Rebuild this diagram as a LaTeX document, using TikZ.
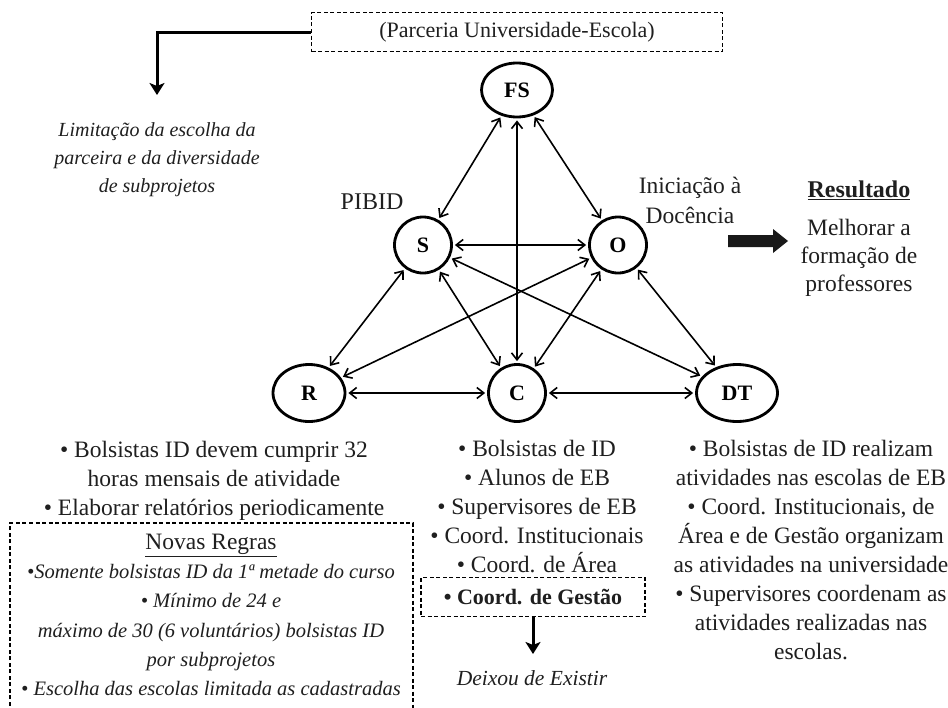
\documentclass[tikz,border=0pt]{standalone}
\usepackage{fontspec}
\setmainfont{Liberation Serif}
\usetikzlibrary{arrows.meta,shapes.geometric}
\begin{document}
\begin{tikzpicture}[x=1pt,y=-1pt,
  txt/.style={font=\fontsize{23.5}{29}\selectfont, align=center, inner sep=0pt, text=black!88},
  itxt/.style={txt, font=\fontsize{20.5}{28}\selectfont\itshape},
  vtx/.style={ellipse, draw, line width=2.8pt, inner sep=0pt, font=\fontsize{22}{25}\selectfont\bfseries},
  link/.style={{Straight Barb[length=7pt,width=11pt]}-{Straight Barb[length=7pt,width=11pt]}, line width=1.6pt, shorten >=2pt, shorten <=2pt},
  dbox/.style={draw, dash pattern=on 4pt off 2.5pt, line width=1.1pt},
  bigarrow/.style={line width=3pt, -{Stealth[length=12pt,width=15pt,inset=3pt]}}
]
\path[use as bounding box, fill=white] (0,0) rectangle (948,707);

% top box and left elbow arrow
\node[dbox, txt, font=\fontsize{22}{29}\selectfont, minimum width=411pt, minimum height=39pt] (top) at (517,32) {(Parceria Universidade-Escola)};
\coordinate (limtip) at (157,95);
\draw[bigarrow] (top.west) -| (limtip);
\node[itxt, font=\fontsize{20}{28}\selectfont\itshape] (lim) at (157,160) {Limitação da escolha da\\parceira e da diversidade\\de subprojetos};

% vertices
\node[vtx, minimum width=71pt, minimum height=54pt] (FS) at (517,90) {FS};
\node[vtx, minimum width=57pt, minimum height=56pt] (S) at (423,245) {S};
\node[vtx, minimum width=57pt, minimum height=56pt] (O) at (618,245) {O};
\node[vtx, minimum width=72pt, minimum height=57pt] (R) at (309,393) {R};
\node[vtx, minimum width=57pt, minimum height=57pt] (C) at (517,393) {C};
\node[vtx, minimum width=81pt, minimum height=57pt] (DT) at (737,393) {DT};

% connectors
\draw[link] (FS) -- (S);
\draw[link] (FS) -- (C);
\draw[link] (FS) -- (O);
\draw[link] (S) -- (O);
\draw[link] (S) -- (R);
\draw[link] (S) -- (C);
\draw[link] (S) -- (DT);
\draw[link] (O) -- (R);
\draw[link] (O) -- (C);
\draw[link] (O) -- (DT);
\draw[link] (R) -- (C);
\draw[link] (C) -- (DT);

% labels around
\node[txt, font=\fontsize{24}{29}\selectfont] (pibid) at (372,202) {PIBID};
\node[txt, font=\fontsize{23.5}{30}\selectfont] (inic) at (690,200) {Iniciação à\\Docência};
\fill[black!90] (728,235) -- (773,235) -- (773,229) -- (788,241) -- (773,253) -- (773,247) -- (728,247) -- cycle;
\node[txt, font=\fontsize{24}{29}\selectfont\bfseries] (res) at (859,190) {\underline{Resultado}};
\node[txt, font=\fontsize{23.5}{28}\selectfont] (mel) at (859,258) {Melhorar a\\formação de\\professores};

% bottom left
\node[txt] (rtext) at (214,481) {\textbullet{} Bolsistas ID devem cumprir 32\\horas mensais de atividade\\\textbullet{} Elaborar relatórios periodicamente};
\draw[dbox] (10,712) -- (10,523) -- (413,523) -- (413,712);
\node[txt, font=\fontsize{20.5}{29.2}\selectfont] (novas) at (211,615) {{\fontsize{23.5}{29.2}\selectfont\underline{Novas Regras}}\\
\textit{\textbullet Somente bolsistas ID da 1ª metade do curso}\\
\textit{\textbullet{} Mínimo de 24 e}\\
\textit{máximo de 30 (6 voluntários) bolsistas ID}\\
\textit{por subprojetos}\\
\textit{\textbullet{} Escolha das escolas limitada as cadastradas}};

% bottom middle
\node[txt] (ctext) at (537,507) {\textbullet{} Bolsistas de ID\\\textbullet{} Alunos de EB\\\textbullet{} Supervisores de EB\\\textbullet{} Coord. Institucionais\\\textbullet{} Coord. de Área};
\node[dbox, txt, font=\fontsize{22}{29}\selectfont\bfseries, minimum width=224pt, minimum height=39pt] (gest) at (533,597) {\textbullet{} Coord. de Gestão};
\coordinate (gtip) at (533,654);
\draw[bigarrow] (gest.south) -- (gtip);
\node[itxt, font=\fontsize{21.5}{28}\selectfont\itshape] (deix) at (532,678) {Deixou de Existir};

% bottom right
\node[txt] (dttext) at (811,550) {\textbullet{} Bolsistas de ID realizam\\atividades nas escolas de EB\\\textbullet{} Coord. Institucionais, de\\Área e de Gestão organizam\\as atividades na universidade\\\textbullet{} Supervisores coordenam as\\atividades realizadas nas\\escolas.};
\end{tikzpicture}
\end{document}
